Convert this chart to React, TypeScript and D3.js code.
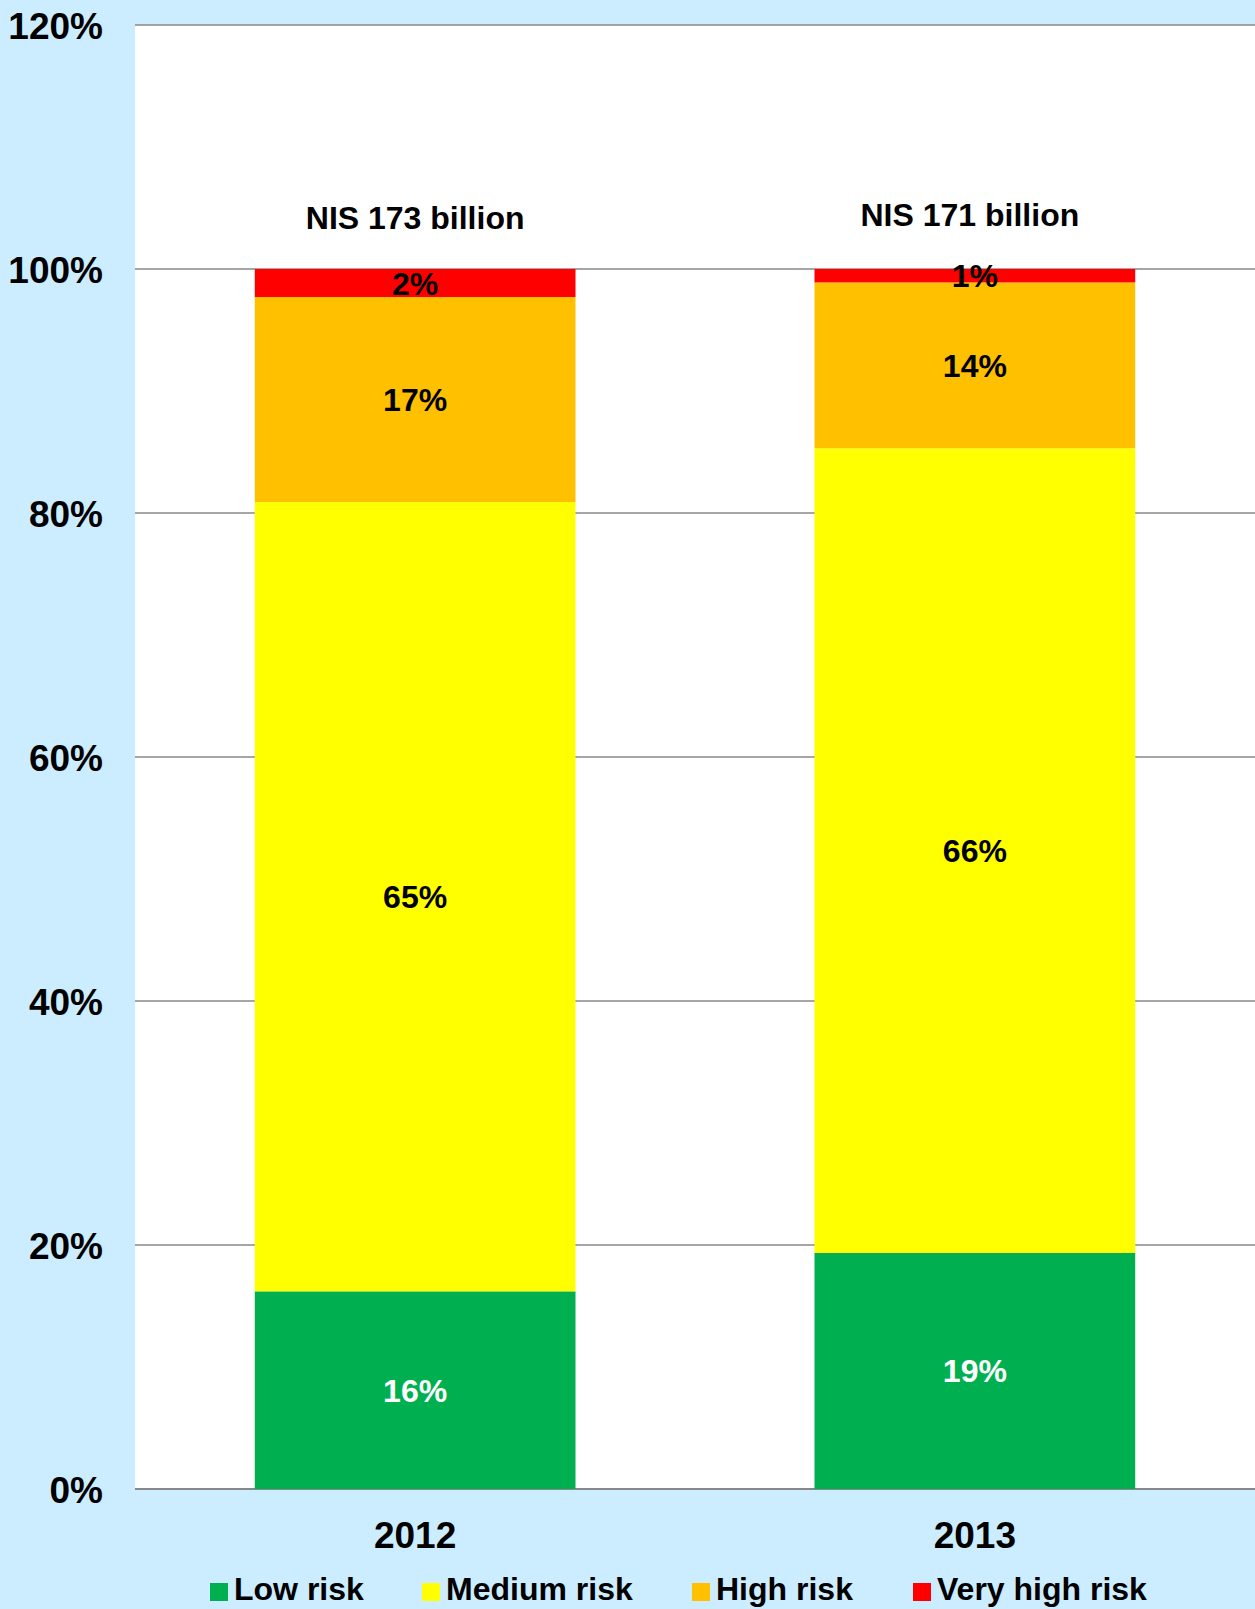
import React from "react"
import * as d3 from "d3"

const years = ["2012", "2013"]
const seriesNames = ["Low risk", "Medium risk", "High risk", "Very high risk"]
const seriesColors = ["#00B050", "#FFFF00", "#FFC000", "#FF0000"]
const labelColors = ["#FFFFFF", "#000000", "#000000", "#000000"]
// shares in percent (bottom to top)
const lowRisk = [16.2, 19.35]
const mediumRisk = [64.7, 65.95]
const highRisk = [16.8, 13.6]
const veryHighRisk = [2.3, 1.1]
const totals = ["NIS 173 billion", "NIS 171 billion"]
const yTicks = [0, 20, 40, 60, 80, 100, 120]

const W = 1255
const H = 1609
const margin = { top: 25, right: 0, bottom: 120, left: 135 }
const FONT = "'Liberation Sans', Arial, sans-serif"

export default function App() {
	const innerW = W - margin.left - margin.right
	const y = d3
		.scaleLinear()
		.domain([0, 120])
		.range([H - margin.bottom, margin.top])
	const x = d3
		.scaleBand()
		.domain(years)
		.range([margin.left, margin.left + innerW])
		.paddingInner(0.427)
		.paddingOuter(0.214)

	const rows = years.map((yr, i) => ({
		year: yr,
		"Low risk": lowRisk[i],
		"Medium risk": mediumRisk[i],
		"High risk": highRisk[i],
		"Very high risk": veryHighRisk[i],
	}))
	const stacked = d3.stack<any>().keys(seriesNames)(rows)

	const legendX = [210, 422, 692, 913]

	return (
		<svg
			width={W}
			height={H}
			style={{ position: "absolute", left: 0, top: 0, fontFamily: FONT }}>
			<rect x={0} y={0} width={W} height={H} fill="#CCECFF" />
			<rect
				x={margin.left}
				y={y(120)}
				width={innerW}
				height={y(0) - y(120)}
				fill="#FFFFFF"
			/>
			{yTicks.map((t) => (
				<g key={t}>
					<line
						x1={margin.left}
						x2={W}
						y1={y(t)}
						y2={y(t)}
						stroke="#888888"
						strokeWidth={t === 0 ? 2 : 1.5}
					/>
					<text
						x={103}
						y={y(t) + 13.5}
						textAnchor="end"
						fontSize={37}
						fontWeight="bold">
						{t}%
					</text>
				</g>
			))}
			{stacked.map((s, si) =>
				s.map((d, i) => {
					const yr = years[i]
					const val = d[1] - d[0]
					const cy = (y(d[0]) + y(d[1])) / 2
					return (
						<g key={si + "-" + i}>
							<rect
								x={x(yr)}
								y={y(d[1])}
								width={x.bandwidth()}
								height={y(d[0]) - y(d[1])}
								fill={seriesColors[si]}
							/>
							<text
								x={(x(yr) as number) + x.bandwidth() / 2}
								y={cy + 11.5}
								textAnchor="middle"
								fontSize={32}
								fontWeight="bold"
								fill={labelColors[si]}>
								{Math.round(val)}%
							</text>
						</g>
					)
				})
			)}
			{years.map((yr, i) => (
				<g key={yr}>
					<text
						x={(x(yr) as number) + x.bandwidth() / 2 - (i === 1 ? 5 : 0)}
						y={y(100) - (i === 1 ? 43 : 40)}
						textAnchor="middle"
						fontSize={32}
						fontWeight="bold">
						{totals[i]}
					</text>
					<text
						x={(x(yr) as number) + x.bandwidth() / 2}
						y={1548}
						textAnchor="middle"
						fontSize={37}
						fontWeight="bold">
						{yr}
					</text>
				</g>
			))}
			{seriesNames.map((n, i) => (
				<g key={n}>
					<rect
						x={legendX[i]}
						y={1583}
						width={18}
						height={18}
						fill={seriesColors[i]}
					/>
					<text
						x={legendX[i] + 24}
						y={1600}
						fontSize={32}
						fontWeight="bold">
						{n}
					</text>
				</g>
			))}
		</svg>
	)
}
